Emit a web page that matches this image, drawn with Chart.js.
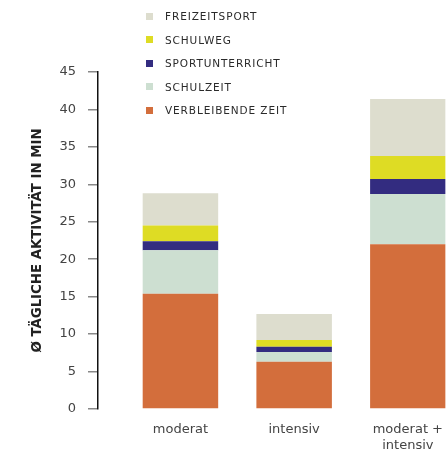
<!DOCTYPE html>
<html lang="de">
<head>
<meta charset="utf-8">
<script src="https://cdn.jsdelivr.net/npm/chart.js@4/dist/chart.umd.min.js"></script>
<style>
  html, body { margin: 0; padding: 0; background: #fff; }
  #wrap { position: relative; width: 448px; height: 449px; }
  #legend { position: absolute; left: 146px; top: 0; margin: 0; padding: 0; list-style: none; }
  #legend li { position: absolute; left: 0; height: 14px; white-space: nowrap;
    font-family: "DejaVu Sans", sans-serif; font-size: 10.5px; letter-spacing: 0.9px; color: #2a2a2a; line-height: 14px; }
  #legend li span.box { position: absolute; left: 0; top: 3.5px; width: 7px; height: 7px; }
  #legend li span.txt { position: absolute; left: 19px; top: 0; }
</style>
</head>
<body>
<div id="wrap">
  <canvas id="chart" width="448" height="449"></canvas>
  <ul id="legend"></ul>
</div>
<script>
// Activity groups on the x axis
const categories = ['moderat', 'intensiv', 'moderat +\nintensiv'];

// Minutes per day, one array per component (stacked bottom to top)
const verbleibendeZeit = [15.4, 6.3, 22.0];
const schulzeit        = [5.8, 1.3, 6.7];
const sportunterricht  = [1.2, 0.7, 2.0];
const schulweg         = [2.1, 0.9, 3.1];
const freizeitsport    = [4.3, 3.5, 7.6];

const seriesNames  = ['VERBLEIBENDE ZEIT', 'SCHULZEIT', 'SPORTUNTERRICHT', 'SCHULWEG', 'FREIZEITSPORT'];
const seriesValues = [verbleibendeZeit, schulzeit, sportunterricht, schulweg, freizeitsport];
const seriesColors = ['#D36E3C', '#CDDFD1', '#332C80', '#DEDC24', '#DDDDCE'];

const yTicks = [0, 5, 10, 15, 20, 25, 30, 35, 40, 45];
const yTitle = 'Ø TÄGLICHE AKTIVITÄT IN MIN';

const datasets = seriesNames.map((name, s) => ({
  label: name,
  data: seriesValues[s].map((v, i) => ({ x: i, y: v })),
  backgroundColor: seriesColors[s],
  borderWidth: 0,
  barPercentage: 0.664,
  categoryPercentage: 1
}));

const chart = new Chart(document.getElementById('chart'), {
  type: 'bar',
  data: { datasets },
  options: {
    responsive: false,
    animation: false,
    devicePixelRatio: 1,
    layout: { padding: { top: 72, right: 0, bottom: 0, left: 0 } },
    plugins: { legend: { display: false }, tooltip: { enabled: false } },
    scales: {
      x: {
        type: 'linear',
        stacked: true,
        offset: false,
        min: -0.725,
        max: 2.332,
        grid: { display: false },
        border: { display: false },
        afterBuildTicks: (scale) => { scale.ticks = categories.map((c, i) => ({ value: i })); },
        afterFit: (scale) => { scale.height = 40; },
        ticks: {
          padding: 5,
          color: '#444',
          font: { family: 'DejaVu Sans', size: 13 },
          callback: (v) => categories[v].split('\n')
        }
      },
      y: {
        stacked: true,
        min: 0,
        max: 45,
        afterBuildTicks: (scale) => { scale.ticks = yTicks.map(v => ({ value: v })); },
        afterFit: (scale) => { scale.width = 98; },
        grid: { drawOnChartArea: false, drawTicks: true, tickLength: 10, color: '#888', lineWidth: 1.5 },
        border: { display: true, color: '#111', width: 1.5 },
        ticks: {
          padding: 12,
          color: '#444',
          font: { family: 'DejaVu Sans', size: 13 }
        },
        title: {
          display: true,
          text: yTitle,
          color: '#222',
          font: { family: 'DejaVu Sans', size: 13.3, weight: 'bold' },
          padding: { top: 30, bottom: 0 }
        }
      }
    }
  }
});

// Legend: listed top-down in reverse stacking order
const legend = document.getElementById('legend');
const tops = [9, 32.5, 56, 79.5, 103];
for (let k = 0; k < seriesNames.length; k++) {
  const s = seriesNames.length - 1 - k;
  const li = document.createElement('li');
  li.style.top = tops[k] + 'px';
  const box = document.createElement('span');
  box.className = 'box';
  box.style.background = seriesColors[s];
  const txt = document.createElement('span');
  txt.className = 'txt';
  txt.textContent = seriesNames[s];
  li.appendChild(box);
  li.appendChild(txt);
  legend.appendChild(li);
}
</script>
</body>
</html>
